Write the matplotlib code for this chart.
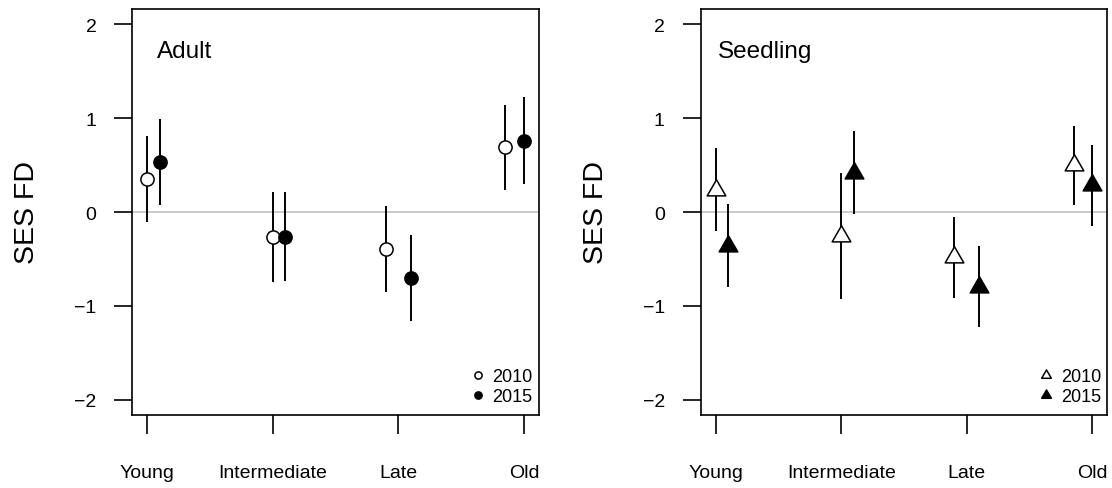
import numpy as np
import matplotlib
matplotlib.use("Agg")
import matplotlib.pyplot as plt
from matplotlib.lines import Line2D
from matplotlib.path import Path

plt.rcParams['font.family'] = ['Liberation Sans', 'DejaVu Sans']

# ---- data ----
categories = ["Young", "Intermediate", "Late", "Old"]
years = ["2010", "2015"]

adult_2010 = [0.35, -0.27, -0.39, 0.69]
adult_2010_lo = [-0.11, -0.74, -0.85, 0.23]
adult_2010_hi = [0.81, 0.21, 0.06, 1.14]
adult_2015 = [0.53, -0.27, -0.70, 0.76]
adult_2015_lo = [0.07, -0.73, -1.16, 0.30]
adult_2015_hi = [0.99, 0.21, -0.25, 1.22]

seed_2010 = [0.23, -0.26, -0.48, 0.50]
seed_2010_lo = [-0.20, -0.93, -0.91, 0.07]
seed_2010_hi = [0.68, 0.41, -0.05, 0.92]
seed_2015 = [-0.36, 0.41, -0.80, 0.29]
seed_2015_lo = [-0.80, -0.02, -1.22, -0.15]
seed_2015_hi = [0.08, 0.86, -0.36, 0.71]

yticks = [-2, -1, 0, 1, 2]

# ---- layout (dodge offsets per category) ----
off_2010 = [0.0, 0.0, -0.1, -0.15]
off_2015 = [0.1, 0.1, 0.1, 0.0]

tri = Path([(0, 0.577), (-0.5, -0.2887), (0.5, -0.2887), (0, 0.577)],
           [Path.MOVETO, Path.LINETO, Path.LINETO, Path.CLOSEPOLY])

fig = plt.figure(figsize=(11.12, 4.89), dpi=100)
W, H = 1112, 489
ax1 = fig.add_axes([132.3 / W, 1 - 416 / H, 406.7 / W, 406 / H])
ax2 = fig.add_axes([700.7 / W, 1 - 416 / H, 406.7 / W, 406 / H])

panels = [
    (ax1, "Adult", (adult_2010, adult_2010_lo, adult_2010_hi),
     (adult_2015, adult_2015_lo, adult_2015_hi), 'o', 9.5, 5.2, (157 - 132.3) / 406.7),
    (ax2, "Seedling", (seed_2010, seed_2010_lo, seed_2010_hi),
     (seed_2015, seed_2015_lo, seed_2015_hi), tri, 15.5, 8.0, (718.3 - 700.7) / 406.7),
]

xbase = np.arange(1, len(categories) + 1)

for ax, title, s10, s15, mk, ms, lms, tx in panels:
    ax.axhline(0, color='#bdbdbd', lw=1.1, zorder=1)
    x10 = xbase + np.array(off_2010)
    x15 = xbase + np.array(off_2015)
    ax.vlines(x10, s10[1], s10[2], color='black', lw=1.4, zorder=2)
    ax.vlines(x15, s15[1], s15[2], color='black', lw=1.4, zorder=2)
    ax.plot(x10, s10[0], linestyle='none', marker=mk, markersize=ms,
            mfc='white', mec='black', mew=1.1, zorder=3)
    ax.plot(x15, s15[0], linestyle='none', marker=mk, markersize=ms,
            mfc='black', mec='black', mew=1.1, zorder=3)

    ax.set_xlim(0.88, 4.12)
    ax.set_ylim(-2.16, 2.16)
    ax.set_xticks(xbase)
    ax.set_xticklabels(categories)
    ax.set_yticks(yticks)
    ax.set_yticklabels([str(v).replace('-', '\u2212') for v in yticks])
    ax.tick_params(axis='x', length=13.5, width=1.2, pad=21.5, labelsize=14)
    ax.tick_params(axis='y', length=13.3, width=1.2, pad=12.5, labelsize=14)
    for sp in ax.spines.values():
        sp.set_linewidth(1.2)

    ax.set_ylabel("SES FD", fontsize=20.5, va='center')
    ax.yaxis.set_label_coords(-0.258, 0.5)

    ax.text(tx, 0.881, title, transform=ax.transAxes, fontsize=17.5,
            ha='left', va='baseline')

    handles = [
        Line2D([], [], linestyle='none', marker=mk, markersize=lms,
               mfc='white', mec='black', mew=1.1),
        Line2D([], [], linestyle='none', marker=mk, markersize=lms,
               mfc='black', mec='black', mew=1.1),
    ]
    ax.legend(handles, years, loc='lower right', frameon=False, fontsize=13,
              handlelength=0.8, handletextpad=0.4, labelspacing=0.15,
              borderaxespad=0.35, borderpad=0.2, bbox_to_anchor=(1.009, 0.0))

fig.savefig("out.png", dpi=100)
